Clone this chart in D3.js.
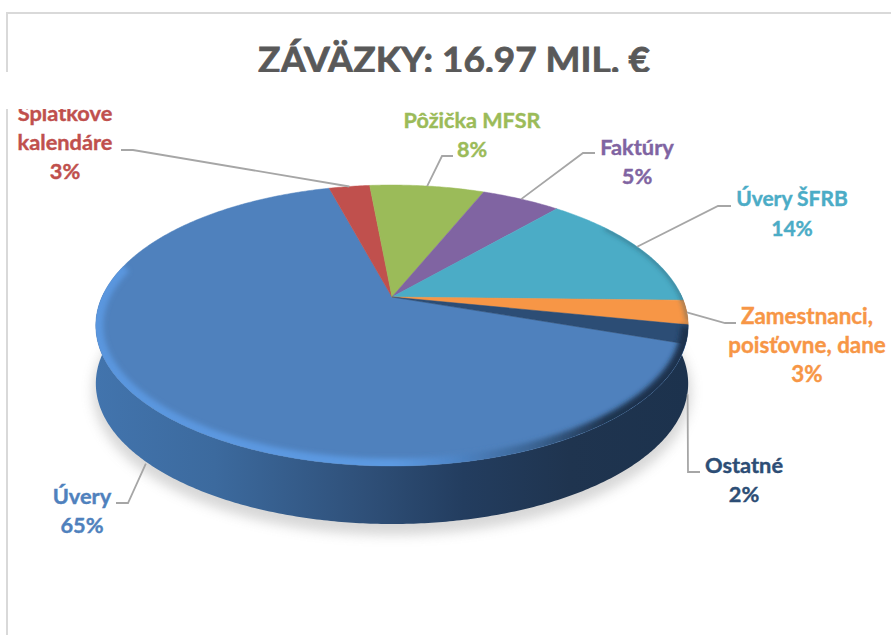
<!DOCTYPE html>
<html>
<head>
<meta charset="utf-8">
<script src="https://cdn.jsdelivr.net/npm/d3@7"></script>
<style>
html, body { margin: 0; padding: 0; background: #fff; }
svg { display: block; }
text { font-family: Lato, "Open Sans", sans-serif; font-weight: 700; }
</style>
</head>
<body>
<div id="chart"></div>
<script>
////////////////////////////////// data
var chart_title = "ZÁVÄZKY: 16.97 MIL. €";
var categories = ["Úvery", "Splátkové kalendáre", "Pôžička MFSR", "Faktúry", "Úvery ŠFRB", "Zamestnanci, poisťovne, dane", "Ostatné"];
// slice sizes as measured on the picture, the printed labels are rounded
var shares = [65.55, 2.7, 7.6, 5.25, 14, 2.8, 2.1];
var share_labels = ["65%", "3%", "8%", "5%", "14%", "3%", "2%"];
var slice_colors = ["#4f81bd", "#c0504d", "#9bbb59", "#8064a2", "#4bacc6", "#f79646", "#2c4d75"];

////////////////////////////////// layout
var width = 891, height = 635;
var apex = {x: 392, y: 297};      // where the slices meet
var radius_x = 290, radius_y = 134.7, tilt = 0.203;   // perspective of the disc
var depth = 58;
var first_angle = 109;

// lines of each label, their centre, and the leader line elbow + end
var label_layout = [
    {lines: ["Úvery"], x: 82, y: 496, size: 21.8, elbow: [128, 503], end: [116, 503], drop: true},
    {lines: ["Splátkové", "kalendáre"], x: 65, y: 113, size: 21.8, elbow: [133, 150], end: [121, 150]},
    {lines: ["Pôžička MFSR"], x: 472, y: 120, size: 21.6, elbow: [442, 156], end: [453, 156]},
    {lines: ["Faktúry"], x: 637, y: 147, size: 21.8, elbow: [583, 153], end: [595, 153]},
    {lines: ["Úvery ŠFRB"], x: 792, y: 199, size: 21, elbow: [718, 206], end: [731, 206]},
    {lines: ["Zamestnanci,", "poisťovne, dane"], x: 807, y: 316, size: 22.4, elbow: [725, 323], end: [736, 323]},
    {lines: ["Ostatné"], x: 744, y: 465, size: 21.8, elbow: [688, 472], end: [700, 472], drop: true}
];

////////////////////////////////// helper functions

// angle in radians, clockwise from north, to a point on the tilted disc edge
function project(angle, offset){
    var x = Math.sin(angle), u = -Math.cos(angle);
    var w = 1 - tilt*u;
    return [apex.x + radius_x*x/w, apex.y + radius_y*u/w + (offset || 0)];
}

function arc_points(a0, a1, offset){
    var n = Math.max(2, Math.ceil(Math.abs(a1 - a0)/0.01));
    return d3.range(n + 1).map(function(i){ return project(a0 + (a1 - a0)*i/n, offset); });
}

function rad(deg){ return deg*Math.PI/180; }

var line = d3.line();

var svg = d3.select("#chart").append("svg").attr("width", width).attr("height", height);
var defs = svg.append("defs");

function horizontal_gradient(id, stops){
    var g = defs.append("linearGradient").attr("id", id).attr("gradientUnits", "userSpaceOnUse")
        .attr("x1", 96).attr("x2", 689).attr("y1", 0).attr("y2", 0);
    stops.forEach(function(s){ g.append("stop").attr("offset", s[0]).attr("stop-color", s[1]); });
}

horizontal_gradient("wall", [[0, "#4274ad"], [0.2, "#3c6a9e"], [0.45, "#2f5079"], [0.62, "#233d5f"], [0.8, "#1f344f"], [1, "#1c324d"]]);
horizontal_gradient("rim", [[0, "#5a96de"], [0.5, "#5c9ae2"], [0.6, "#4f86c8"], [0.74, "#3a6392"], [0.86, "#1f344f"], [1, "#1c324d"]]);

function blur(id, amount){
    defs.append("filter").attr("id", id).attr("x", "-20%").attr("y", "-20%").attr("width", "140%").attr("height", "140%")
        .append("feGaussianBlur").attr("stdDeviation", amount);
}
blur("soft", 6);
blur("rim_blur", 2.6);

////////////////////////////////// frame and title
svg.append("path").attr("d", line([[7, height], [7, 13], [width, 13]]))
    .attr("fill", "none").attr("stroke", "#d9d9d9").attr("stroke-width", 2);

svg.append("text").attr("x", 454).attr("y", 73).attr("text-anchor", "middle")
    .attr("font-size", 37).attr("fill", "#595959")
    .attr("stroke", "#595959").attr("stroke-width", 0.8).text(chart_title);

////////////////////////////////// pie
var pie = d3.pie().sort(null).startAngle(rad(first_angle)).endAngle(rad(first_angle + 360));
var slices = pie(shares);

// shadow under the disc
var outline = arc_points(0, 2*Math.PI);
svg.append("path").attr("d", line(arc_points(0, 2*Math.PI, depth + 8)) + "Z")
    .attr("fill", "#a0a0a0").attr("stroke", "#a0a0a0").attr("stroke-width", 6)
    .attr("opacity", 0.42).attr("filter", "url(#soft)");

// side wall
svg.append("path")
    .attr("d", line(arc_points(rad(88), rad(272), 0).concat(arc_points(rad(272), rad(88), depth))) + "Z")
    .attr("fill", "url(#wall)");

// top face
svg.selectAll(".slice").data(slices).enter().append("path")
    .attr("class", "slice")
    .attr("d", function(d){ return line([[apex.x, apex.y]].concat(arc_points(d.startAngle, d.endAngle))) + "Z"; })
    .attr("fill", function(d, i){ return slice_colors[i]; })
    .attr("stroke", function(d, i){ return slice_colors[i]; })
    .attr("stroke-width", 0.5);

// bevel along the front edge, clipped to the face
defs.append("clipPath").attr("id", "face").append("path").attr("d", line(outline) + "Z");
var bevel = svg.append("g").attr("clip-path", "url(#face)");
bevel.append("path").attr("d", line(arc_points(rad(102), rad(284))))
    .attr("fill", "none").attr("stroke", "url(#rim)").attr("stroke-width", 15).attr("filter", "url(#rim_blur)");
bevel.append("path").attr("d", line(arc_points(rad(55), rad(100))))
    .attr("fill", "none").attr("stroke", "#2c5566").attr("stroke-opacity", 0.55).attr("stroke-width", 4).attr("filter", "url(#rim_blur)");

////////////////////////////////// labels and leader lines
slices.forEach(function(d, i){
    var layout = label_layout[i];
    var mid = (d.startAngle + d.endAngle)/2;
    var anchor = project(mid, layout.drop ? depth + 2 : 0);
    svg.append("path").attr("d", line([anchor, layout.elbow, layout.end]))
        .attr("fill", "none").attr("stroke", "#a6a6a6").attr("stroke-width", 1.8);

    layout.lines.concat([share_labels[i]]).forEach(function(t, j){
        svg.append("text").attr("x", layout.x).attr("y", layout.y + j*29.3).attr("dy", "0.35em")
            .attr("text-anchor", "middle").attr("font-size", layout.size)
            .attr("fill", slice_colors[i]).attr("stroke", slice_colors[i]).attr("stroke-width", 0.4).text(t);
    });
});

// the white band that cuts through the picture, over title and top left label
svg.append("rect").attr("x", 0).attr("y", 72).attr("width", width).attr("height", 37).attr("fill", "#fff");
</script>
</body>
</html>
